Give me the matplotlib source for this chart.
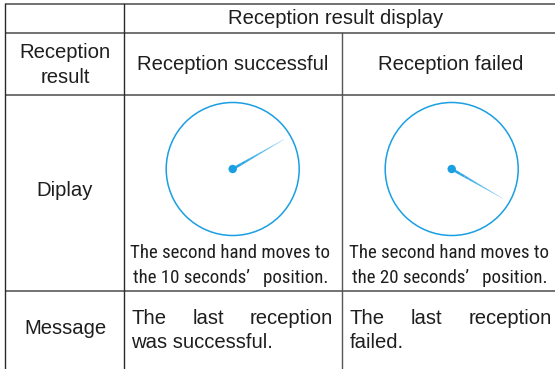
import matplotlib
matplotlib.use("Agg")
import matplotlib.pyplot as plt
from matplotlib.patches import Circle, Polygon
from matplotlib import font_manager as fm
import numpy as np

# ---- data ----
header_title = "Reception result display"
row_labels = ["Reception\nresult", "Diplay", "Message"]
columns = ["Reception successful", "Reception failed"]
hand_seconds = [10, 20]
captions = [["The second hand moves to", "the 10 seconds\u2019   position."],
            ["The second hand moves to", "the 20 seconds\u2019   position."]]
messages = [["The last reception", "was successful."],
            ["The last reception", "failed."]]

W, H = 555, 369
fig = plt.figure(figsize=(W / 100, H / 100), dpi=100)
ax = fig.add_axes([0, 0, 1, 1])
ax.set_xlim(0, W)
ax.set_ylim(H, 0)
ax.axis("off")

# pick a narrow/condensed font for the captions if one is installed
def find_narrow():
    prefs = ["Liberation Sans Narrow", "Arial Narrow", "Roboto Condensed",
             "DejaVu Sans Condensed", "Open Sans Condensed", "Noto Sans Condensed"]
    cands = []
    for f in fm.fontManager.ttflist:
        nm = f.name
        st = str(f.stretch)
        isnarrow = ("Narrow" in nm or "Condensed" in nm or
                    st in ("condensed", "semi-condensed", "extra-condensed") or
                    (st.isdigit() and int(st) < 500) or
                    "Condensed" in f.fname or "Narrow" in f.fname)
        if not isnarrow:
            continue
        if f.style != "normal":
            continue
        wt = f.weight if isinstance(f.weight, int) else {"normal": 400, "regular": 400}.get(str(f.weight), 700)
        if wt != 400:
            continue
        cands.append(f)
    for p in prefs:
        for f in cands:
            if f.name == p:
                return f.fname
    for f in cands:
        if "Condensed" in f.fname or "Narrow" in f.fname:
            return f.fname
    return None

narrow_path = find_narrow()

# grid geometry (pixels)
x0, x1, x2, x3 = 5, 124, 342, 560
yt, yh, yr, ym, yb = 3.5, 33, 95, 291, 369
vcol = "#2a2a2a"
hcol = "#666666"
for y in [yt, yh, yr, ym]:
    ax.plot([x0, W], [y, y], color=hcol, lw=1.3, solid_capstyle="butt")
ax.plot([x0, x0], [yt, yb], color=vcol, lw=1.0)
ax.plot([x1, x1], [yt, yb], color=vcol, lw=1.0)
ax.plot([x2, x2], [yh, yb], color="#555555", lw=1.0)

font = "Liberation Sans"
fs = 14.6
tc = "#1e1e1e"

ax.text((x1 + x3) / 2 - 6, 18.5, header_title, ha="center", va="center",
        fontsize=fs, family=font, color=tc)
ax.text((x0 + x1) / 2 + 0.5, 65, row_labels[0], ha="center", va="center",
        fontsize=fs, family=font, color=tc, linespacing=1.4)
ax.text((x0 + x1) / 2 + 0.5, 191, row_labels[1], ha="center", va="center",
        fontsize=fs, family=font, color=tc)
ax.text((x0 + x1) / 2 + 0.5, 328, row_labels[2], ha="center", va="center",
        fontsize=fs, family=font, color=tc)

for cx, name in zip([(x1 + x2) / 2, 451], columns):
    ax.text(cx, 64, name, ha="center", va="center",
            fontsize=fs, family=font, color=tc)

fig.canvas.draw()
renderer = fig.canvas.get_renderer()

def text_width(s, **kw):
    t = ax.text(0, 0, s, **kw)
    bb = t.get_window_extent(renderer)
    t.remove()
    return bb.width

# caption font: fit the first line to ~199 px wide
if narrow_path:
    capkw = dict(fontproperties=fm.FontProperties(fname=narrow_path))
else:
    capkw = dict(family=font)
w10 = text_width(captions[0][0], fontsize=10, **capkw)
cap_fs = min(14.6, 10 * 199.0 / w10)

# clocks
blue = "#1a9fe3"
R = 66.5
L = 59
nseg = 12
for cx, sec, cap in zip([232.7, 451.7], hand_seconds, captions):
    cy = 169
    ax.add_patch(Circle((cx, cy), R, fill=False, ec=blue, lw=1.1))
    ang = np.deg2rad(sec * 6)
    dx, dy = np.sin(ang), -np.cos(ang)
    px, py = -dy, dx
    w0, w1 = 1.4, 0.2
    for i in range(nseg):
        f0, f1 = i / nseg, (i + 1) / nseg
        a0 = w0 + (w1 - w0) * f0
        a1 = w0 + (w1 - w0) * f1
        sx0, sy0 = cx + L * f0 * dx, cy + L * f0 * dy
        sx1, sy1 = cx + L * f1 * dx, cy + L * f1 * dy
        poly = [(sx0 + a0 * px, sy0 + a0 * py), (sx1 + a1 * px, sy1 + a1 * py),
                (sx1 - a1 * px, sy1 - a1 * py), (sx0 - a0 * px, sy0 - a0 * py)]
        alpha = 1.0 - 0.6 * f0
        ax.add_patch(Polygon(poly, closed=True, fc=blue, ec="none", alpha=alpha))
    ax.add_patch(Circle((cx, cy), 4.2, fc=blue, ec="none"))
    t1 = ax.text(cx - 3, 252.5, cap[0], ha="center", va="center", color=tc, **capkw)
    t1.set_fontsize(cap_fs)
    t2 = ax.text(cx - 2, 278, cap[1], ha="center", va="center", color=tc, **capkw)
    t2.set_fontsize(cap_fs)

# messages (first line justified)
for (left, right), msg in zip([(131.5, 333), (350, 552)], messages):
    words = msg[0].split()
    widths = [text_width(w, fontsize=fs, family=font) for w in words]
    gap = (right - left - sum(widths)) / (len(words) - 1)
    x = left
    for w, wd in zip(words, widths):
        ax.text(x, 318, w, ha="left", va="center", fontsize=fs, family=font, color=tc)
        x += wd + gap
    ax.text(left, 342, msg[1], ha="left", va="center", fontsize=fs, family=font, color=tc)

fig.savefig("out.png", dpi=100)
